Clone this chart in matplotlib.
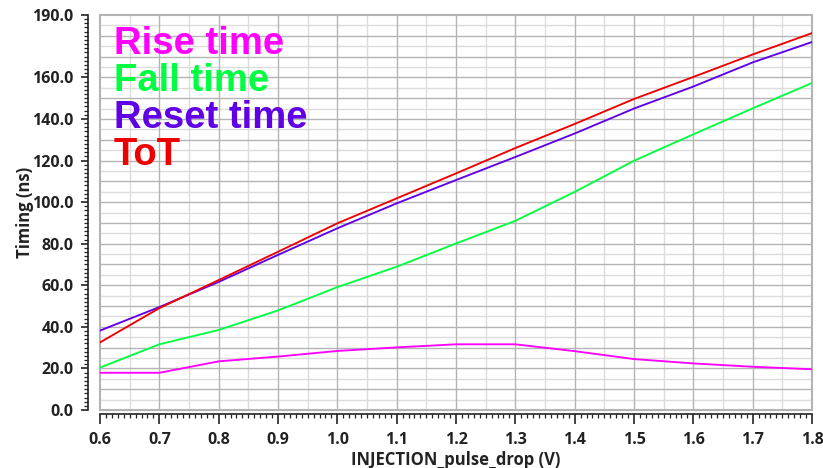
import numpy as np
import matplotlib
matplotlib.use("Agg")
import matplotlib.pyplot as plt
from matplotlib import font_manager
from matplotlib.ticker import FixedLocator, MultipleLocator, FormatStrFormatter

# pick a bold-capable sans family for the axis text
axis_family = "DejaVu Sans"
for fam in ["Open Sans", "Noto Sans", "Lato"]:
    try:
        p = font_manager.findfont(font_manager.FontProperties(family=fam, weight="bold"),
                                  fallback_to_default=False)
        if "bold" in p.lower():
            axis_family = fam
            break
    except Exception:
        pass

plt.rcParams["font.family"] = [axis_family, "DejaVu Sans"]
plt.rcParams["font.weight"] = "bold"

# Injection pulse drop (V)
pulse_drop = [0.6, 0.7, 0.8, 0.9, 1.0, 1.1, 1.2, 1.3, 1.4, 1.5, 1.6, 1.7, 1.8]

# Timing (ns)
rise_time = [17.9, 17.9, 23.4, 25.7, 28.4, 30.1, 31.6, 31.6, 28.3, 24.5, 22.4, 20.8, 19.6]
fall_time = [20.4, 31.6, 38.5, 47.9, 59.1, 68.9, 80.1, 91.0, 104.9, 119.9, 132.6, 145.1, 157.3]
reset_time = [38.2, 49.5, 61.6, 74.6, 87.4, 99.4, 110.6, 121.7, 133.0, 145.0, 155.6, 167.2, 177.0]
tot = [32.5, 49.0, 62.5, 76.1, 89.8, 101.8, 113.8, 126.0, 137.6, 149.6, 160.2, 171.0, 181.3]

y_ticks = [0, 20, 40, 60, 80, 100, 120, 140, 160, 190]
x_ticks = [0.6, 0.7, 0.8, 0.9, 1.0, 1.1, 1.2, 1.3, 1.4, 1.5, 1.6, 1.7, 1.8]

series = [
    ("Rise time", rise_time, "#ff00ff"),
    ("Fall time", fall_time, "#00ff40"),
    ("Reset time", reset_time, "#5f00e6"),
    ("ToT", tot, "#ee0000"),
]

W, H, DPI = 823, 468, 100
fig = plt.figure(figsize=(W / DPI, H / DPI), dpi=DPI)
ax = fig.add_axes([100 / W, 1 - 410 / H, 712 / W, 395 / H])

xmin, xmax = 0.6, 1.8
ymin, ymax = 0, 190
ax.set_xlim(xmin, xmax)
ax.set_ylim(ymin, ymax)

# grid: fine lines at half steps, stronger lines at full steps
minor_c, major_c = "#dcdcdc", "#b4b4b4"
for v in np.arange(0.65, 1.8, 0.1):
    ax.axvline(v, color=minor_c, lw=1.0, zorder=0)
for v in np.arange(5, 190, 10):
    ax.axhline(v, color=minor_c, lw=1.0, zorder=0)
for v in np.arange(0.7, 1.75, 0.1):
    ax.axvline(v, color=major_c, lw=1.0, zorder=0.5)
for v in np.arange(10, 190, 10):
    ax.axhline(v, color=major_c, lw=1.0, zorder=0.5)

for name, vals, col in series:
    ax.plot(pulse_drop, vals, color=col, lw=1.35, zorder=3)

# plot frame in grey; axis lines drawn separately, offset outward
for s in ["top", "right"]:
    ax.spines[s].set_color(major_c)
    ax.spines[s].set_linewidth(1.5)
ax.spines["left"].set_position(("outward", 9))
ax.spines["bottom"].set_position(("outward", 3))
for s in ["left", "bottom"]:
    ax.spines[s].set_color("#222222")
    ax.spines[s].set_linewidth(1.2)
# grey border on the left/bottom edge of the plot area
ax.plot([0, 0], [0, 1], transform=ax.transAxes, color=major_c, lw=1.5, clip_on=False, zorder=1)
ax.plot([0, 1], [0, 0], transform=ax.transAxes, color=major_c, lw=1.5, clip_on=False, zorder=1)

ax.yaxis.set_major_locator(FixedLocator(y_ticks))
ax.yaxis.set_major_formatter(FormatStrFormatter("%.1f"))
ax.yaxis.set_minor_locator(MultipleLocator(2))
ax.xaxis.set_major_locator(FixedLocator(x_ticks))
ax.xaxis.set_major_formatter(FormatStrFormatter("%.1f"))
ax.xaxis.set_minor_locator(MultipleLocator(0.01))

ax.tick_params(axis="y", which="major", direction="out", length=5, width=1.2,
               pad=5, color="#222222", labelcolor="#222222", labelsize=11.5)
ax.tick_params(axis="y", which="minor", direction="out", length=3, width=0.9, color="#222222")
ax.tick_params(axis="x", which="major", direction="out", length=7, width=1.2,
               pad=6, color="#222222", labelcolor="#222222", labelsize=11.5)
ax.tick_params(axis="x", which="minor", direction="out", length=3, width=0.9, color="#222222")
for lab in ax.get_xticklabels() + ax.get_yticklabels():
    lab.set_fontweight("bold")

ax.set_xlabel("INJECTION_pulse_drop (V)", fontweight="bold",
              fontsize=12, color="#222222", labelpad=2)
ax.set_ylabel("Timing (ns)", fontweight="bold",
              fontsize=12, color="#222222", labelpad=-1)

# series names as coloured text block
for i, (name, vals, col) in enumerate(series):
    ax.text(14 / 712, 1 - (39 + 37 * i) / 395, name, transform=ax.transAxes,
            color=col, fontfamily="Liberation Sans", fontweight="bold",
            fontsize=27.5, va="baseline", ha="left", zorder=4)

fig.savefig("out.png", dpi=DPI)
